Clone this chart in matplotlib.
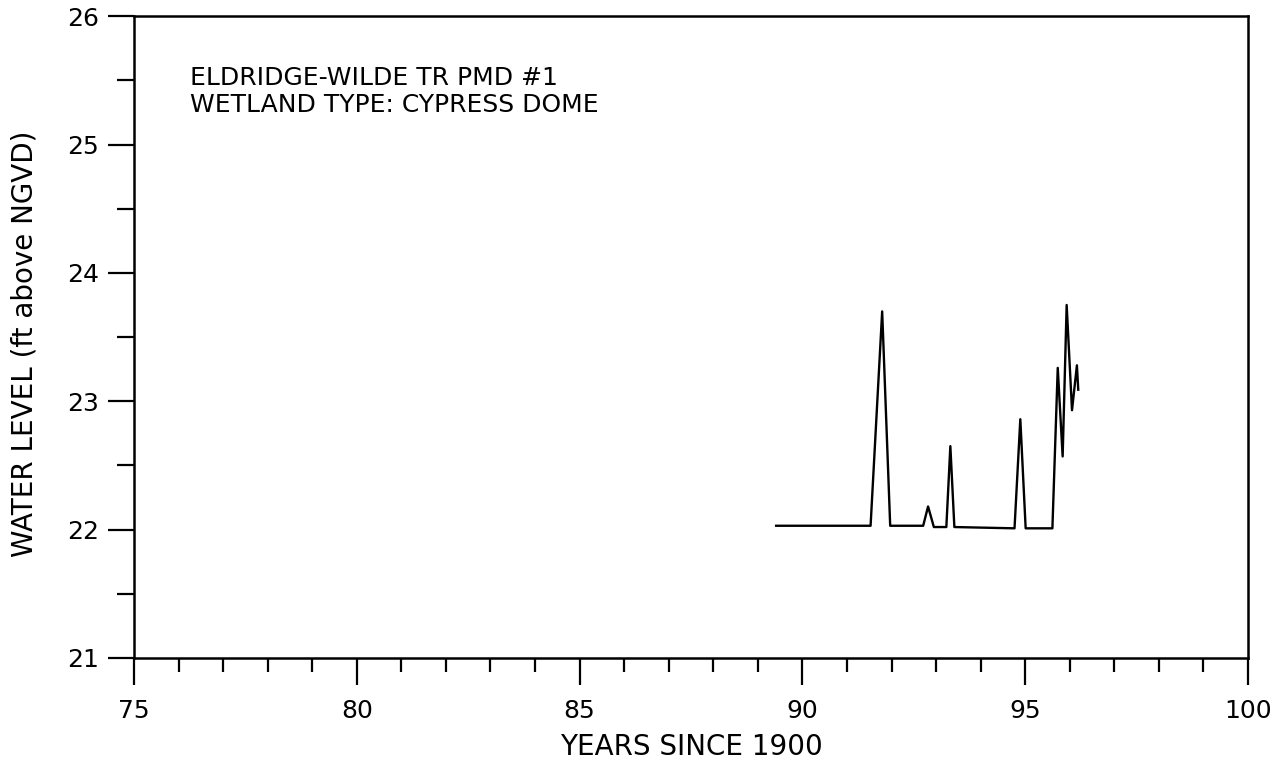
import matplotlib
matplotlib.use("Agg")
import matplotlib.pyplot as plt
from matplotlib.ticker import MultipleLocator

years = [89.41, 91.53, 91.79, 91.97, 92.71, 92.82, 92.95, 93.23, 93.32, 93.41,
         94.76, 94.89, 95.01, 95.61, 95.73, 95.84, 95.93, 96.05, 96.16, 96.19]
levels = [22.03, 22.03, 23.70, 22.03, 22.03, 22.18, 22.02, 22.02, 22.65, 22.02,
          22.01, 22.86, 22.01, 22.01, 23.26, 22.57, 23.75, 22.93, 23.28, 23.09]

x_ticks = [75, 80, 85, 90, 95, 100]
y_ticks = [21, 22, 23, 24, 25, 26]
title_lines = ["ELDRIDGE-WILDE TR PMD #1", "WETLAND TYPE: CYPRESS DOME"]

plt.rcParams['font.family'] = ['DejaVu Sans']

fig = plt.figure(figsize=(12.82, 7.70), dpi=100)
ax = fig.add_axes([0.1045, 0.1455, 0.869, 0.8335])
ax.plot(years, levels, color='black', linewidth=1.7)
ax.set_xlim(75, 100)
ax.set_ylim(21, 26)
ax.set_xticks(x_ticks)
ax.set_yticks(y_ticks)
ax.xaxis.set_minor_locator(MultipleLocator(1))
ax.yaxis.set_minor_locator(MultipleLocator(0.5))
ax.tick_params(axis='x', which='major', direction='out', length=19.5, width=1.6, labelsize=18, pad=10)
ax.tick_params(axis='x', which='minor', direction='out', length=10, width=1.6)
ax.tick_params(axis='y', which='major', direction='out', length=19, width=1.6, labelsize=18, pad=6)
ax.tick_params(axis='y', which='minor', direction='out', length=12, width=1.6)
for s in ax.spines.values():
    s.set_linewidth(1.8)

ax.set_xlabel("YEARS SINCE 1900", fontsize=20, labelpad=7)
ax.set_ylabel("WATER LEVEL (ft above NGVD)", fontsize=20)
ax.yaxis.set_label_coords(-0.086, 0.49)

ax.text(0.0503, 0.922, "\n".join(title_lines), transform=ax.transAxes, fontsize=18,
        va='top', ha='left', linespacing=1.12)

fig.savefig("out.png", dpi=100)
